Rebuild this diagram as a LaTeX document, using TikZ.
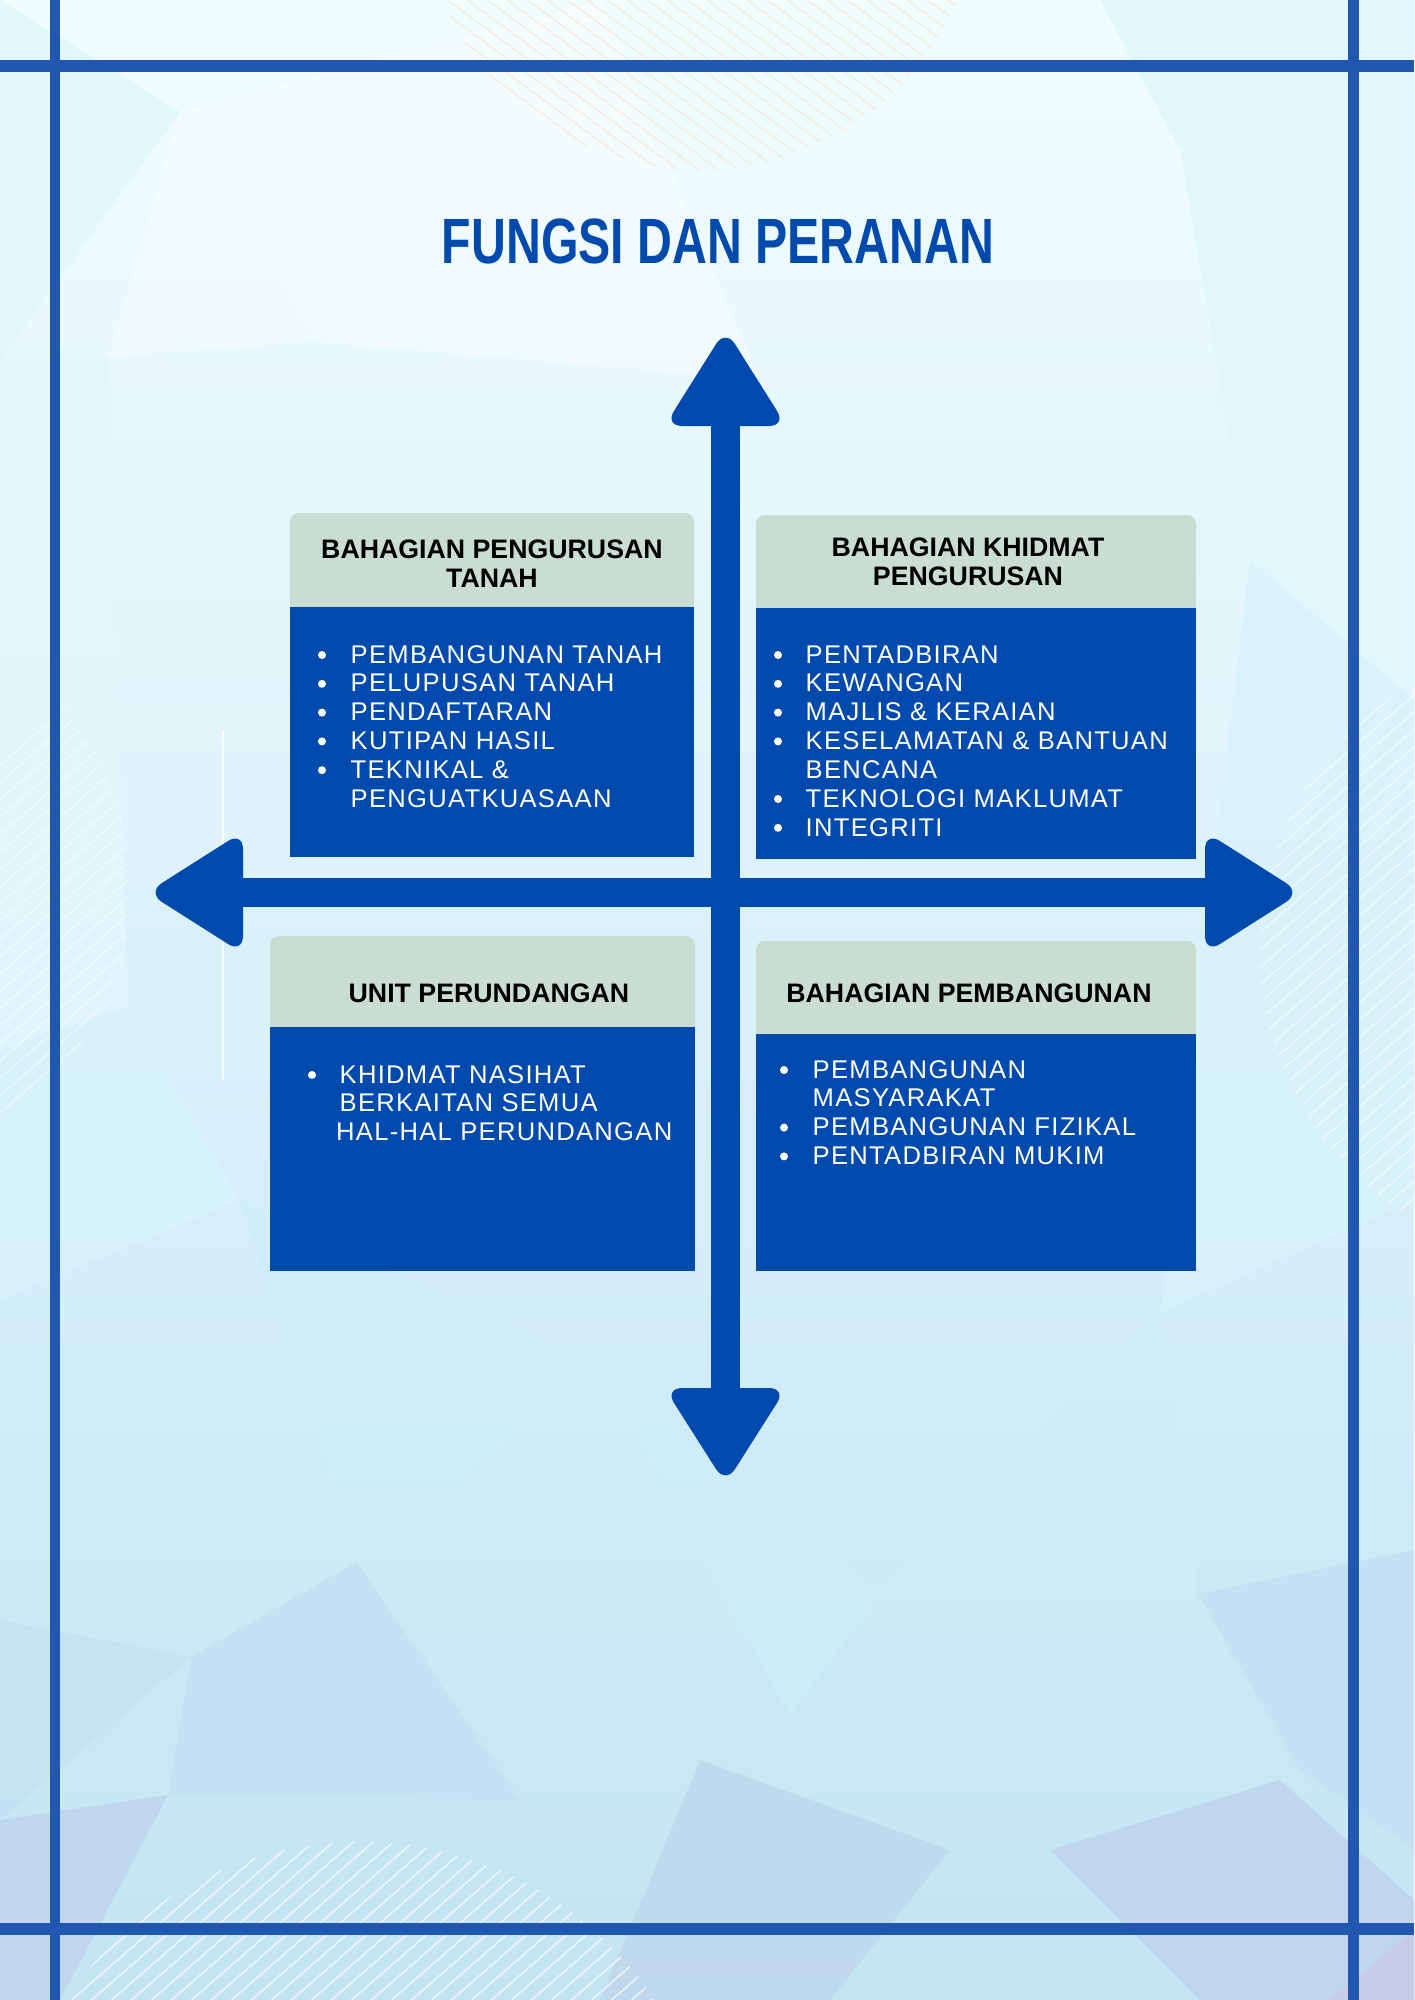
\documentclass[tikz,border=0pt]{standalone}
\usepackage{fontspec}
\setmainfont{Liberation Sans}
\newfontfamily\listfont[LetterSpace=5]{Liberation Sans}
\usetikzlibrary{positioning}
\definecolor{kblue}{RGB}{0,74,173}
\definecolor{framecol}{RGB}{33,87,174}
\definecolor{hdrcol}{RGB}{202,221,210}
\definecolor{bgtop}{HTML}{F0FDFE}
\definecolor{bgmid}{HTML}{D6F5FB}
\definecolor{bgbot}{HTML}{C4E4F4}
\definecolor{polyA}{HTML}{E2F7FC}
\definecolor{polyB}{HTML}{D9F3FA}
\definecolor{polyC}{HTML}{CDEEF9}
\definecolor{polyD}{HTML}{C4E2F3}
\definecolor{polyE}{HTML}{C0D6EC}
\definecolor{polyF}{HTML}{C8CCE6}
\definecolor{hatchtop}{HTML}{F6ECDC}

\begin{document}
\begin{tikzpicture}[x=0.01cm, y=-0.01cm,
    hdr/.style={fill=hdrcol},
    body/.style={fill=kblue},
    title/.style={anchor=base, inner sep=0pt, text=kblue, font=\fontsize{18.2}{20}\selectfont\bfseries},
    hdrtxt/.style={anchor=base, inner sep=0pt, font=\fontsize{7.6}{8.25}\selectfont\bfseries},
    listtxt/.style={anchor=base west, inner sep=0pt, text=white, font=\listfont\fontsize{7.28}{8.2}\selectfont},
    dot/.style={fill=white},
    hatch/.style={white, line width=0.4pt, opacity=0.75},
    shaft/.style={kblue, line width=8.25pt, shorten >=24pt, shorten <=24pt},
    arrowpart/.style={fill=kblue, rounded corners=5pt}]

\useasboundingbox (0,0) rectangle (1414,2000);

% background
\shade[top color=bgtop, middle color=bgmid, bottom color=bgbot] (0,0) rectangle (1414,2000);
\fill[polyA] (0,0) -- (180,112) -- (0,360) -- cycle;
\fill[white, opacity=0.3] (180,112) -- (312,342) -- (108,357) -- cycle;
\fill[white, opacity=0.35] (180,112) -- (600,0) -- (760,380) -- (312,342) -- cycle;
\fill[polyA] (1100,0) -- (1414,0) -- (1414,200) -- (1180,150) -- cycle;
\fill[polyA] (1180,150) -- (1414,200) -- (1414,700) -- (1250,560) -- cycle;
\fill[polyA, opacity=0.8] (0,360) -- (108,357) -- (128,1007) -- (0,1050) -- cycle;
\fill[polyB, opacity=0.8] (128,1007) -- (0,1050) -- (0,1300) -- (240,1200) -- cycle;
\fill[polyB, opacity=0.8] (1250,560) -- (1414,700) -- (1414,1200) -- (1160,1313) -- cycle;
\fill[polyC, opacity=0.7] (240,1200) -- (600,1370) -- (357,1562) -- cycle;
\fill[polyC, opacity=0.7] (600,1370) -- (880,1594) -- (790,1715) -- cycle;
\fill[polyC, opacity=0.6] (880,1594) -- (1160,1313) -- (1198,1594) -- cycle;
\fill[polyD, opacity=0.8] (0,1620) -- (191,1657) -- (0,1820) -- cycle;
\fill[polyD] (191,1657) -- (357,1562) -- (520,1800) -- (168,1795) -- cycle;
\fill[polyD] (1198,1594) -- (1414,1550) -- (1414,1850) -- (1300,1770) -- cycle;
\fill[polyE] (0,1820) -- (168,1795) -- (60,2000) -- (0,2000) -- cycle;
\fill[polyE, opacity=0.8] (700,1760) -- (950,1850) -- (830,2000) -- (600,2000) -- cycle;
\fill[polyE] (1050,1850) -- (1280,1780) -- (1414,1900) -- (1414,2000) -- (1200,2000) -- cycle;
\fill[polyF] (1414,1930) -- (1414,2000) -- (1330,2000) -- cycle;

% hatching
\begin{scope}
  \clip (360,2195) circle (3.53cm);
  \foreach \i in {0,...,55} \draw[hatch] (\i*20-300,2010) -- ++(460,-400);
\end{scope}
\begin{scope}
  \clip (-150,885) circle (2.8cm);
  \foreach \i in {0,...,40} \draw[hatch, opacity=0.5] (\i*20-500,1200) -- ++(690,-600);
\end{scope}
\begin{scope}
  \clip (1570,950) circle (3.1cm);
  \foreach \i in {0,...,45} \draw[hatch, opacity=0.6] (\i*20+700,1280) -- ++(760,-660);
\end{scope}
\begin{scope}
  \clip (700,-110) circle (2.8cm);
  \foreach \i in {0,...,45} \draw[hatchtop, line width=0.4pt] (\i*20+100,-20) -- ++(300,220);
\end{scope}
\draw[white, line width=0.4pt] (223,730) -- (223,1080);

% frame
\fill[framecol] (0,60) rectangle (1414,72);
\fill[framecol] (0,1923) rectangle (1414,1935);
\fill[framecol] (50,0) rectangle (60,2000);
\fill[framecol] (1348,0) rectangle (1359,2000);

\node[title] (title) at (718,263) {\scalebox{0.754}[1]{FUNGSI DAN PERANAN}};

% cross
\coordinate (ntip) at (725.5,329);
\coordinate (stip) at (725.5,1484);
\coordinate (wtip) at (147,892.5);
\coordinate (etip) at (1301,892.5);
\draw[shaft] (ntip) -- (stip);
\draw[shaft] (wtip) -- (etip);
\fill[arrowpart] (ntip) -- ++(61,97) -- ++(-122,0) -- cycle;
\fill[arrowpart] (stip) -- ++(61,-96) -- ++(-122,0) -- cycle;
\fill[arrowpart] (wtip) -- ++(96,-61) -- ++(0,122) -- cycle;
\fill[arrowpart] (etip) -- ++(-96,-61) -- ++(0,122) -- cycle;

% boxes
\fill[hdr, rounded corners=2.5pt] (290,513) rectangle (694,580);
\fill[hdr] (290,560) rectangle (694,607);
\fill[body] (290,607) rectangle (694,857);

\fill[hdr, rounded corners=2.5pt] (756,515) rectangle (1196,580);
\fill[hdr] (756,560) rectangle (1196,608);
\fill[body] (756,608) rectangle (1196,859);

\fill[hdr, rounded corners=2.5pt] (270,936) rectangle (695,1000);
\fill[hdr] (270,980) rectangle (695,1027);
\fill[body] (270,1027) rectangle (695,1271);

\fill[hdr, rounded corners=2.5pt] (756,941) rectangle (1196,1000);
\fill[hdr] (756,980) rectangle (1196,1034);
\fill[body] (756,1034) rectangle (1196,1271);

\node[hdrtxt] (tanah) at (492,558) {\begin{tabular}[t]{@{}c@{}}BAHAGIAN PENGURUSAN\\TANAH\end{tabular}};
\node[hdrtxt] (khidmat) at (968,556) {\begin{tabular}[t]{@{}c@{}}BAHAGIAN KHIDMAT\\PENGURUSAN\end{tabular}};
\node[hdrtxt] (undang) at (489,1002) {UNIT PERUNDANGAN};
\node[hdrtxt] (bangun) at (969,1002) {BAHAGIAN PEMBANGUNAN};

% lists
\node[listtxt] (tanahlist) at (350,663) {\begin{tabular}[t]{@{}l@{}}
PEMBANGUNAN TANAH\\ PELUPUSAN TANAH\\ PENDAFTARAN\\ KUTIPAN HASIL\\ TEKNIKAL \&\\ PENGUATKUASAAN
\end{tabular}};
\node[listtxt] (khidmatlist) at (805,663) {\begin{tabular}[t]{@{}l@{}}
PENTADBIRAN\\ KEWANGAN\\ MAJLIS \& KERAIAN\\ KESELAMATAN \& BANTUAN\\ BENCANA\\ TEKNOLOGI MAKLUMAT\\ INTEGRITI
\end{tabular}};
\node[listtxt] (undanglist) at (339,1083) {\begin{tabular}[t]{@{}l@{}}
KHIDMAT NASIHAT\\ BERKAITAN SEMUA\\ \hspace*{-1pt}HAL-HAL PERUNDANGAN
\end{tabular}};
\node[listtxt] (bangunlist) at (812,1078) {\begin{tabular}[t]{@{}l@{}}
PEMBANGUNAN\\ MASYARAKAT\\ PEMBANGUNAN FIZIKAL\\ PENTADBIRAN MUKIM
\end{tabular}};

% bullets
\foreach \r in {0,1,2,3,4} \fill[dot] (322,655+\r*28.8) circle (0.04cm);
\foreach \r in {0,1,2,3,5,6} \fill[dot] (778,655+\r*28.8) circle (0.04cm);
\fill[dot] (312,1075) circle (0.04cm);
\foreach \r in {0,2,3} \fill[dot] (784,1070+\r*28.8) circle (0.04cm);
\end{tikzpicture}
\end{document}
